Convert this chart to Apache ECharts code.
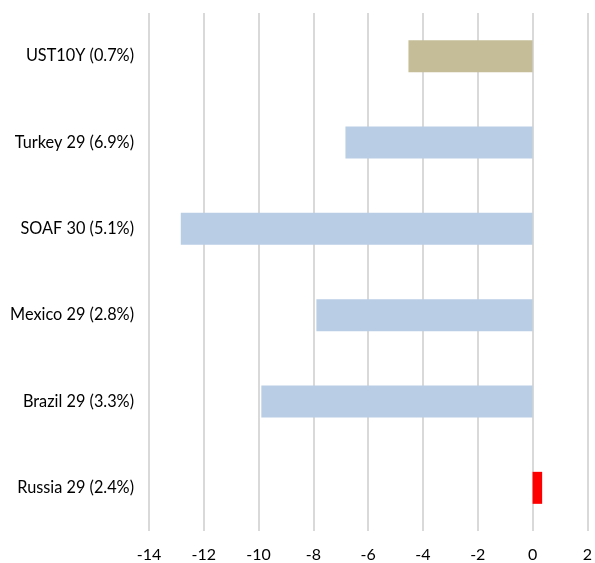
<!DOCTYPE html>
<html><head><meta charset="utf-8">
<script src="https://cdn.jsdelivr.net/npm/echarts@6/dist/echarts.min.js"></script>
<style>html,body{margin:0;padding:0;background:#fff}#c{width:595px;height:563px}</style>
</head><body><div id="c"></div>
<script>
const categories = ["UST10Y (0.7%)", "Turkey 29 (6.9%)", "SOAF 30 (5.1%)", "Mexico 29 (2.8%)", "Brazil 29 (3.3%)", "Russia 29 (2.4%)"];
const values = [-4.53, -6.83, -12.84, -7.89, -9.9, 0.35];
const barColors = ["#C4BD97", "#B9CDE5", "#B9CDE5", "#B9CDE5", "#B9CDE5", "#FF0000"];
const chart = echarts.init(document.getElementById('c'));
chart.setOption({
  animation: false,
  grid: {left: 149, right: 7, top: 13, bottom: 31},
  xAxis: {
    type: 'value', min: -14, max: 2, interval: 2,
    axisLine: {show: false}, axisTick: {show: false},
    splitLine: {show: true, lineStyle: {color: '#D9D9D9', width: 2}},
    axisLabel: {color: '#000', fontSize: 16, fontFamily: 'Lato', margin: 16}
  },
  yAxis: {
    type: 'category', data: categories, inverse: true,
    axisLine: {show: false}, axisTick: {show: false}, splitLine: {show: false},
    axisLabel: {color: '#000', fontSize: 16.3, fontFamily: 'Lato', margin: 15}
  },
  series: [{
    type: 'bar', barWidth: 32,
    data: values.map((v, i) => ({value: v, itemStyle: {color: barColors[i]}}))
  }]
});
</script></body></html>
